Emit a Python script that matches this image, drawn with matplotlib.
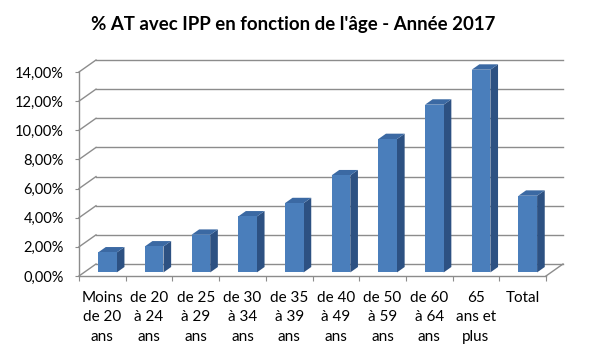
import numpy as np
import matplotlib.pyplot as plt
from matplotlib.patches import Polygon

plt.rcParams['font.family'] = ['Lato', 'DejaVu Sans']

categories = ['Moins\nde 20\nans', 'de 20\nà 24\nans', 'de 25\nà 29\nans', 'de 30\nà 34\nans',
              'de 35\nà 39\nans', 'de 40\nà 49\nans', 'de 50\nà 59\nans', 'de 60\nà 64\nans',
              '65\nans et\nplus', 'Total']
values = [1.37, 1.78, 2.58, 3.84, 4.75, 6.66, 9.15, 11.51, 13.91, 5.26]
yticks = [0, 2, 4, 6, 8, 10, 12, 14]

grid_col = '#8c8c8c'
front_col = '#4a7ebb'
top_col = '#3b69a3'
side_col = '#2d5182'

fig = plt.figure(figsize=(5.9, 3.53), dpi=100)
ax = fig.add_axes([79 / 590, 77 / 353, 467 / 590, 204 / 353])
ax.set_xlim(0, 10)
ax.set_ylim(0, 14)

# pixel -> data units, used for the fake 3D depth
px_x = 10 / 467
px_y = 14 / 204
ddx = 17 * px_x
ddy = 12 * px_y

# back wall gridlines and left wall diagonals
for v in yticks:
    ax.plot([ddx, 10 + ddx], [v + ddy, v + ddy], color=grid_col, lw=1, zorder=1, clip_on=False)
    ax.plot([0, ddx], [v, v + ddy], color=grid_col, lw=1, zorder=1, clip_on=False)
# right edge of the floor
ax.plot([10, 10 + ddx], [0, ddy], color=grid_col, lw=1, zorder=1, clip_on=False)

# bars
f, b = 0.3, 0.75
w = 0.4
for i, v in enumerate(values):
    xl = i + 0.5 - w / 2
    xr = xl + w
    front = Polygon([(xl + f * ddx, f * ddy), (xr + f * ddx, f * ddy),
                     (xr + f * ddx, v + f * ddy), (xl + f * ddx, v + f * ddy)],
                    closed=True, fc=front_col, ec='none', zorder=3, clip_on=False)
    side = Polygon([(xr + f * ddx, f * ddy), (xr + b * ddx, b * ddy),
                    (xr + b * ddx, v + b * ddy), (xr + f * ddx, v + f * ddy)],
                   closed=True, fc=side_col, ec='none', zorder=3, clip_on=False)
    top = Polygon([(xl + f * ddx, v + f * ddy), (xr + f * ddx, v + f * ddy),
                   (xr + b * ddx, v + b * ddy), (xl + b * ddx, v + b * ddy)],
                  closed=True, fc=top_col, ec='none', zorder=3, clip_on=False)
    ax.add_patch(side)
    ax.add_patch(top)
    ax.add_patch(front)

for s in ['top', 'right']:
    ax.spines[s].set_visible(False)
for s in ['left', 'bottom']:
    ax.spines[s].set_color(grid_col)
    ax.spines[s].set_linewidth(1)
    ax.spines[s].set_zorder(2)

ax.set_yticks(yticks)
ax.set_yticklabels([f"{v:.2f}".replace('.', ',') + '%' for v in yticks])
ax.tick_params(axis='y', direction='out', length=3, color=grid_col, labelsize=10.5, pad=8)

ax.set_xticks(np.arange(11))
ax.set_xticklabels([])
ax.tick_params(axis='x', which='major', direction='out', length=3.5, color=grid_col)
ax.set_xticks(np.arange(10) + 0.5, minor=True)
ax.set_xticklabels(categories, minor=True)
ax.tick_params(axis='x', which='minor', length=0, labelsize=11, pad=10.5)
for lbl in ax.get_xticklabels(minor=True):
    lbl.set_linespacing(1.5)

fig.text(0.497, 0.932, "% AT avec IPP en fonction de l'âge - Année 2017",
         ha='center', va='center', fontsize=13.4, fontweight='bold')

fig.savefig('out.png', dpi=100)
